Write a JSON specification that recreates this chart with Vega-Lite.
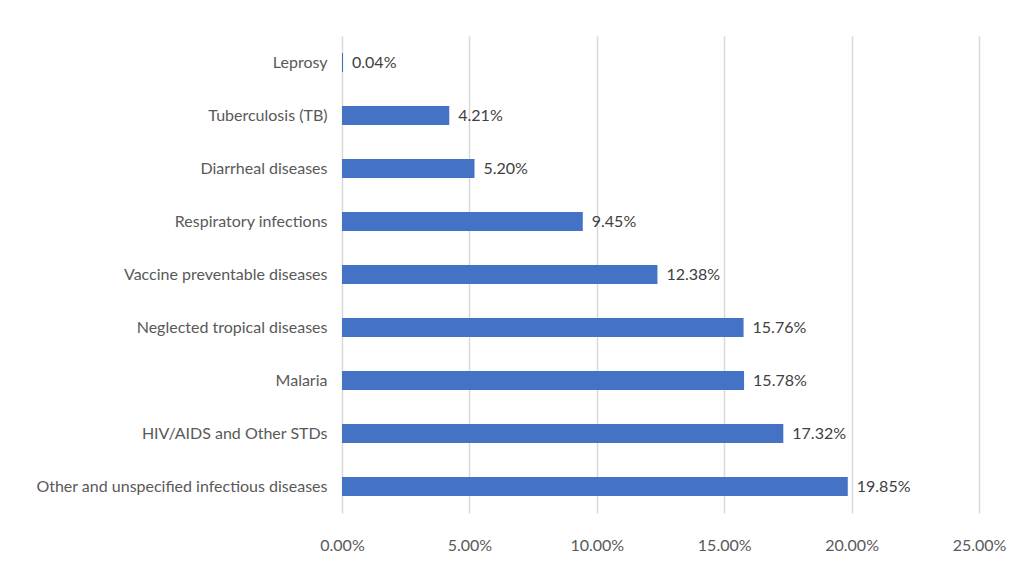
{
  "$schema": "https://vega.github.io/schema/vega-lite/v6.json",
  "autosize": {"type": "none"},
  "width": 637,
  "height": 477,
  "padding": {"left": 342, "top": 36, "right": 39, "bottom": 56},
  "background": "white",
  "config": {
    "view": {"stroke": null},
    "font": "Lato",
    "axis": {"labelFont": "Lato", "labelFontSize": 16, "labelColor": "#595959"}
  },
  "data": {
    "values": [
      {"disease": "Leprosy", "share": 0.0004},
      {"disease": "Tuberculosis (TB)", "share": 0.0421},
      {"disease": "Diarrheal diseases", "share": 0.052},
      {"disease": "Respiratory infections", "share": 0.0945},
      {"disease": "Vaccine preventable diseases", "share": 0.1238},
      {"disease": "Neglected tropical diseases", "share": 0.1576},
      {"disease": "Malaria", "share": 0.1578},
      {"disease": "HIV/AIDS and Other STDs", "share": 0.1732},
      {"disease": "Other and unspecified infectious diseases", "share": 0.1985}
    ]
  },
  "encoding": {
    "y": {
      "field": "disease", "type": "nominal", "sort": null,
      "scale": {"paddingInner": 0.64, "paddingOuter": 0.32},
      "axis": {"title": null, "ticks": false, "domain": false, "labelPadding": 15, "labelLimit": 400}
    },
    "x": {
      "field": "share", "type": "quantitative",
      "scale": {"domain": [0, 0.25], "nice": false},
      "axis": {"title": null, "format": ".2%", "values": [0, 0.05, 0.1, 0.15, 0.2, 0.25], "ticks": false, "domain": false, "grid": true, "gridColor": "#d9d9d9", "gridWidth": 1.5, "labelPadding": 24, "labelFlush": false}
    }
  },
  "layer": [
    {"mark": {"type": "bar", "color": "#4472C4"}},
    {"mark": {"type": "text", "align": "left", "baseline": "middle", "dx": 9, "fontSize": 16, "color": "#404040", "font": "Lato"},
     "encoding": {"text": {"field": "share", "type": "quantitative", "format": ".2%"}}}
  ]
}
